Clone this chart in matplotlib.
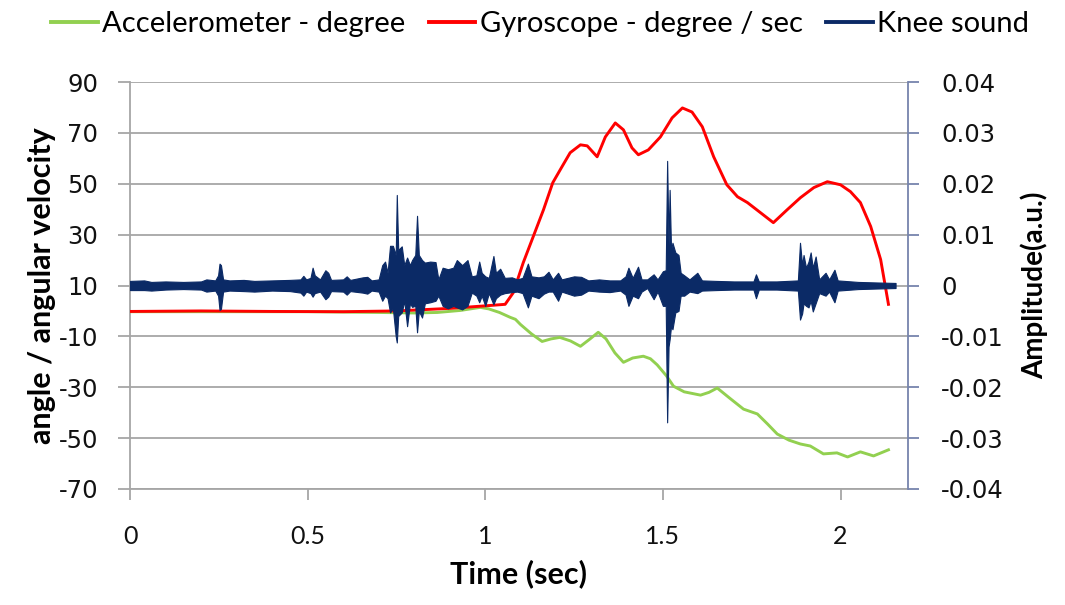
import numpy as np
import matplotlib; matplotlib.use("Agg"); import matplotlib.pyplot as plt
from matplotlib.lines import Line2D

GREEN = "#92D050"; RED = "#FF0000"; NAVY = "#0B2A66"
GRID = "#A6A6A6"; RSPINE = "#7684AC"

# ---------- accelerometer (degree) ----------
acc_t = [0.00, 0.50, 0.70, 0.80, 0.865, 0.93, 0.986, 1.01, 1.04, 1.07, 1.085, 1.099, 1.13, 1.16,
         1.185, 1.21, 1.24, 1.268, 1.295, 1.318, 1.34, 1.365, 1.389, 1.415, 1.445, 1.465,
         1.484, 1.51, 1.53, 1.56, 1.606, 1.63, 1.653, 1.69, 1.727, 1.766, 1.795, 1.822,
         1.855, 1.887, 1.915, 1.952, 1.99, 2.02, 2.056, 2.093, 2.135]
acc_v = [-0.3, -0.3, -0.6, -0.8, -0.6, 0.2, 1.4, 0.8, -0.6, -2.5, -3.3, -5.3, -9.0, -12.0,
         -11.0, -10.4, -11.8, -13.9, -11.0, -8.4, -11.0, -16.5, -20.2, -18.5, -17.8, -18.8,
         -21.2, -25.5, -29.6, -31.8, -33.1, -32.0, -30.3, -34.5, -38.6, -40.5, -44.5, -48.4,
         -50.8, -52.3, -53.1, -56.2, -55.8, -57.4, -55.4, -57.0, -54.6]

# ---------- gyroscope (degree / sec) ----------
gyr_t = [0.00, 0.20, 0.40, 0.60, 0.75, 0.90, 1.00, 1.056, 1.079, 1.107, 1.135, 1.164, 1.19,
         1.216, 1.239, 1.268, 1.287, 1.315, 1.338, 1.366, 1.389, 1.413, 1.431, 1.459, 1.493,
         1.526, 1.555, 1.582, 1.611, 1.643, 1.68, 1.71, 1.738, 1.775, 1.811, 1.85, 1.887,
         1.925, 1.963, 2.00, 2.028, 2.056, 2.085, 2.113, 2.135]
gyr_v = [-0.2, 0.0, -0.2, -0.3, 0.0, 1.0, 2.0, 2.6, 7.2, 19.0, 29.2, 39.8, 50.4,
         56.7, 62.2, 65.3, 64.9, 60.6, 68.4, 73.9, 71.2, 64.1, 61.4, 63.3, 68.4,
         75.9, 79.8, 78.2, 72.4, 60.6, 49.6, 44.9, 42.6, 38.6, 34.7, 39.8, 44.5,
         48.5, 50.8, 49.6, 46.9, 42.6, 33.2, 20.2, 2.6]

# ---------- knee sound envelope (a.u.) ----------
knee_t = [0.000, 0.040, 0.060, 0.100, 0.150, 0.200, 0.215, 0.240, 0.248, 0.252, 0.256, 0.262,
          0.280, 0.320, 0.350, 0.400, 0.450, 0.480, 0.488, 0.496, 0.508, 0.514, 0.520, 0.535,
          0.550, 0.558, 0.566, 0.600, 0.610, 0.620, 0.655, 0.668, 0.680, 0.700, 0.710, 0.718,
          0.725, 0.732, 0.740, 0.748, 0.751, 0.755, 0.765, 0.772, 0.780, 0.788, 0.794, 0.803,
          0.808, 0.813, 0.822, 0.830, 0.845, 0.860, 0.868, 0.880, 0.895, 0.910, 0.920, 0.935,
          0.950, 0.962, 0.975, 0.983, 0.990, 1.000, 1.010, 1.023, 1.030, 1.042, 1.055, 1.075,
          1.090, 1.105, 1.120, 1.130, 1.150, 1.165, 1.178, 1.190, 1.205, 1.215, 1.250, 1.270,
          1.290, 1.320, 1.350, 1.380, 1.395, 1.403, 1.415, 1.430, 1.440, 1.456, 1.474, 1.485,
          1.500, 1.508, 1.512, 1.516, 1.519, 1.523, 1.527, 1.535, 1.544, 1.550, 1.560, 1.575,
          1.597, 1.610, 1.650, 1.700, 1.755, 1.762, 1.770, 1.820, 1.880, 1.886, 1.892, 1.896,
          1.903, 1.910, 1.916, 1.922, 1.930, 1.940, 1.958, 1.968, 1.983, 1.992, 2.050, 2.100,
          2.155]
knee_hi = [0.0009, 0.0010, 0.0007, 0.0008, 0.0007, 0.0008, 0.0012, 0.0010, 0.0020, 0.0043, 0.0040, 0.0012,
           0.0010, 0.0011, 0.0009, 0.0010, 0.0011, 0.0012, 0.0019, 0.0012, 0.0015, 0.0035, 0.0020, 0.0012,
           0.0030, 0.0025, 0.0011, 0.0012, 0.0018, 0.0011, 0.0016, 0.0017, 0.0010, 0.0012, 0.0040, 0.0047,
           0.0025, 0.0078, 0.0078, 0.0060, 0.0178, 0.0070, 0.0077, 0.0040, 0.0055, 0.0040, 0.0050, 0.0060,
           0.0137, 0.0060, 0.0050, 0.0045, 0.0047, 0.0046, 0.0012, 0.0035, 0.0032, 0.0035, 0.0050, 0.0040,
           0.0050, 0.0018, 0.0020, 0.0047, 0.0025, 0.0018, 0.0015, 0.0058, 0.0025, 0.0033, 0.0015, 0.0016,
           0.0012, 0.0015, 0.0043, 0.0018, 0.0016, 0.0018, 0.0027, 0.0012, 0.0025, 0.0012, 0.0018, 0.0017,
           0.0010, 0.0012, 0.0010, 0.0010, 0.0018, 0.0035, 0.0015, 0.0037, 0.0012, 0.0012, 0.0022, 0.0012,
           0.0028, 0.0030, 0.0245, 0.0080, 0.0188, 0.0070, 0.0084, 0.0065, 0.0060, 0.0025, 0.0020, 0.0012,
           0.0025, 0.0010, 0.0009, 0.0008, 0.0008, 0.0022, 0.0008, 0.0008, 0.0010, 0.0084, 0.0040, 0.0060,
           0.0035, 0.0047, 0.0065, 0.0035, 0.0057, 0.0012, 0.0025, 0.0012, 0.0031, 0.0010, 0.0007, 0.0006,
           0.0005]
knee_lo = [-0.0009, -0.0009, -0.0010, -0.0008, -0.0007, -0.0008, -0.0012, -0.0010, -0.0020, -0.0048, -0.0046, -0.0012,
           -0.0010, -0.0011, -0.0012, -0.0010, -0.0011, -0.0014, -0.0020, -0.0012, -0.0015, -0.0022, -0.0015, -0.0012,
           -0.0027, -0.0022, -0.0011, -0.0012, -0.0018, -0.0011, -0.0014, -0.0016, -0.0010, -0.0012, -0.0030, -0.0020,
           -0.0025, -0.0053, -0.0045, -0.0100, -0.0112, -0.0060, -0.0053, -0.0030, -0.0080, -0.0035, -0.0042, -0.0040,
           -0.0092, -0.0050, -0.0063, -0.0035, -0.0033, -0.0030, -0.0020, -0.0040, -0.0045, -0.0040, -0.0043, -0.0047,
           -0.0040, -0.0014, -0.0020, -0.0033, -0.0020, -0.0040, -0.0015, -0.0037, -0.0025, -0.0018, -0.0015, -0.0013,
           -0.0012, -0.0015, -0.0043, -0.0020, -0.0025, -0.0016, -0.0012, -0.0012, -0.0030, -0.0012, -0.0020, -0.0018,
           -0.0010, -0.0012, -0.0013, -0.0010, -0.0018, -0.0040, -0.0020, -0.0025, -0.0012, -0.0005, -0.0027, -0.0012,
           -0.0040, -0.0040, -0.0269, -0.0120, -0.0106, -0.0080, -0.0086, -0.0053, -0.0050, -0.0020, -0.0020, -0.0012,
           -0.0015, -0.0010, -0.0009, -0.0008, -0.0008, -0.0025, -0.0008, -0.0008, -0.0010, -0.0067, -0.0055, -0.0035,
           -0.0040, -0.0043, -0.0030, -0.0051, -0.0035, -0.0015, -0.0020, -0.0012, -0.0033, -0.0010, -0.0007, -0.0006,
           -0.0005]

x_ticks = [0, 0.5, 1, 1.5, 2]
x_labels = ["0", "0.5", "1", "1.5", "2"]
left_ticks = [-70, -50, -30, -10, 10, 30, 50, 70, 90]
right_ticks = [-0.04, -0.03, -0.02, -0.01, 0, 0.01, 0.02, 0.03, 0.04]
right_labels = ["-0.04", "-0.03", "-0.02", "-0.01", "0", "0.01", "0.02", "0.03", "0.04"]

LAT = "Lato"; DV = "DejaVu Sans"

fig = plt.figure(figsize=(10.65, 6.05), dpi=100)
ax = fig.add_axes([130/1065, 1-489/605, (908-130)/1065, (489-82)/605])
ax2 = ax.twinx()

ax.plot(acc_t, acc_v, color=GREEN, lw=2.1, label="Accelerometer - degree", zorder=3)
ax.plot(gyr_t, gyr_v, color=RED, lw=2.1, label="Gyroscope - degree / sec", zorder=4,
        solid_joinstyle="round")
ax2.fill_between(knee_t, knee_lo, knee_hi, color=NAVY, lw=0.8, edgecolor=NAVY)

ax.set_xlim(0, 2.19); ax.set_ylim(-70, 90); ax2.set_ylim(-0.04, 0.04)
ax.set_yticks(left_ticks); ax2.set_yticks(right_ticks)
ax2.set_yticklabels(right_labels, fontfamily=DV, fontsize=17.5)
ax.set_yticklabels([str(v) for v in left_ticks], fontfamily=DV, fontsize=17.5)
ax.set_xticks(x_ticks); ax.set_xticklabels(x_labels, fontfamily=LAT, fontsize=18)
ax.grid(axis="y", color=GRID, lw=1.3); ax.set_axisbelow(True)

for a in (ax, ax2):
    a.spines["top"].set_visible(False)
ax.spines["right"].set_visible(False)
ax.spines["left"].set_color(GRID); ax.spines["bottom"].set_color(GRID)
ax.spines["left"].set_linewidth(1.3); ax.spines["bottom"].set_linewidth(1.3)
ax2.spines["left"].set_visible(False); ax2.spines["bottom"].set_visible(False)
ax2.spines["right"].set_color(RSPINE); ax2.spines["right"].set_linewidth(1.3)
ax.tick_params(axis="y", length=9, width=1.3, color=GRID, pad=14, labelcolor="#111")
ax.tick_params(axis="x", length=8, width=1.3, color=GRID, pad=18, labelcolor="#111")
ax2.tick_params(axis="y", length=8, width=1.3, color=RSPINE, pad=16, labelcolor="#111")

ax.set_xlabel("Time (sec)", fontfamily=LAT, fontweight="bold", fontsize=22, labelpad=8)
ax.set_ylabel("angle / angular velocity", fontfamily=LAT, fontweight="bold", fontsize=22, labelpad=2)
ax2.set_ylabel("Amplitude(a.u.)", fontfamily=LAT, fontweight="bold", fontsize=20, labelpad=12)

h, l = ax.get_legend_handles_labels()
h.append(Line2D([], [], color=NAVY, lw=2.2)); l.append("Knee sound")
fig.legend(h, l, loc="center", bbox_to_anchor=(540/1065, 1-24/605), ncol=3, frameon=False,
           prop={"family": LAT, "size": 21}, handlelength=1.6, handletextpad=0.15,
           columnspacing=0.8)
for ln in fig.legends[0].get_lines():
    ln.set_linewidth(2.8)

fig.savefig("out.png", dpi=100)
